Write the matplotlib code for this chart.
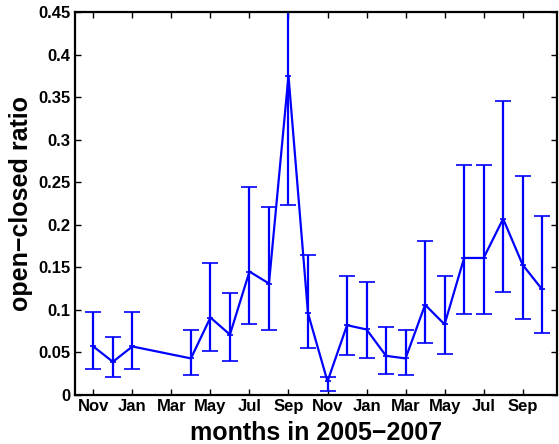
import matplotlib
matplotlib.use('Agg')
import matplotlib.pyplot as plt
import numpy as np

plt.rcParams['font.family'] = ['Liberation Sans', 'DejaVu Sans']
plt.rcParams['font.weight'] = 'bold'

# month index, 0 = Nov 2005
months = [0, 1, 2, 5, 6, 7, 8, 9, 10, 11, 12, 13, 14, 15, 16, 17, 18, 19, 20, 21, 22, 23]
ratio = [0.057, 0.039, 0.057, 0.043, 0.091, 0.071, 0.145, 0.131, 0.375, 0.096, 0.016,
         0.082, 0.077, 0.046, 0.043, 0.106, 0.083, 0.161, 0.161, 0.207, 0.153, 0.124]
lower = [0.031, 0.021, 0.031, 0.024, 0.052, 0.040, 0.084, 0.076, 0.223, 0.055, 0.005,
         0.047, 0.044, 0.025, 0.024, 0.061, 0.048, 0.095, 0.095, 0.121, 0.089, 0.073]
upper = [0.098, 0.068, 0.098, 0.076, 0.155, 0.120, 0.244, 0.221, 0.527, 0.164, 0.021,
         0.140, 0.133, 0.080, 0.076, 0.181, 0.140, 0.270, 0.270, 0.345, 0.257, 0.210]

tick_pos = list(range(0, 23, 2))
tick_lab = ['Nov', 'Jan', 'Mar', 'May', 'Jul', 'Sep', 'Nov', 'Jan', 'Mar', 'May', 'Jul', 'Sep']

ratio = np.array(ratio)
yerr = [ratio - np.array(lower), np.array(upper) - ratio]

fig = plt.figure(figsize=(5.59, 4.44), dpi=100)
ax = fig.add_axes([75 / 559, 49 / 444, 482 / 559, 383 / 444])
ax.errorbar(months, ratio, yerr=yerr, color='#0000ff', lw=1.6, elinewidth=1.6,
            capsize=5.5, capthick=1.6, marker='+', ms=5, mew=1.2)

ax.set_xlim(-0.94, 23.76)
ax.set_ylim(0, 0.45)
ax.set_xticks(tick_pos)
ax.set_xticklabels(tick_lab)
ax.set_yticks(np.arange(0, 0.451, 0.05))
ax.set_yticklabels(['0', '0.05', '0.1', '0.15', '0.2', '0.25', '0.3', '0.35', '0.4', '0.45'])
ax.tick_params(direction='in', length=4, width=1, top=True, right=True,
               labelsize=12, pad=3)
for s in ax.spines.values():
    s.set_linewidth(1.6)

ax.set_xlabel('months in 2005\u22122007', fontsize=18, fontweight='bold', labelpad=5)
ax.set_ylabel('open\u2212closed ratio', fontsize=18, fontweight='bold', labelpad=4)

fig.savefig('out.png', dpi=100)
plt.close()
